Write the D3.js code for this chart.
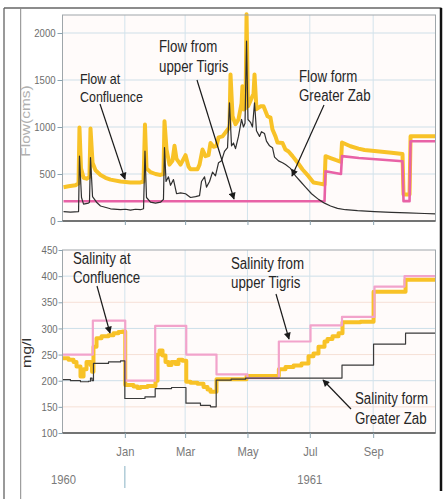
<!DOCTYPE html>
<html><head><meta charset="utf-8">
<script src="https://cdn.jsdelivr.net/npm/d3@7/dist/d3.min.js"></script>
<style>
html,body{margin:0;padding:0;background:#fff;}
svg{display:block;font-family:"Liberation Sans",Arial,sans-serif;}
</style></head><body>
<svg id="chart" width="448" height="499"></svg>
<script>
// ---------------- data ----------------
const recordStart = "1960-11-01";
const recordEnd = "1961-11-01";
const monthTickDates = ["1961-01-01","1961-03-01","1961-05-01","1961-07-01","1961-09-01"];
const monthTickLabels = ["Jan","Mar","May","Jul","Sep"];
const yearLabelDates = ["1960-11-02","1961-07-01"];
const yearLabels = ["1960","1961"];
const flowTicks = [0,500,1000,1500,2000];
const salinityTicks = [100,150,200,250,300,350,400,450];

// [days since 1 Nov 1960, flow (cms)]
const flowConfluence = [[1,360],[5.9,370],[12.7,380],[15.7,400],[16.6,995],[18.1,560],[20.6,460],[23.5,450],[26.4,470],[27.4,985],[29.4,620],[32.3,540],[37.2,490],[42.1,460],[47,440],[56.8,420],[66.5,410],[76.3,410],[79.3,420],[80.7,1027],[82.2,560],[86.1,520],[91,500],[95.9,490],[98.8,500],[99.8,1062],[101.8,760],[104.7,600],[107.6,640],[109.6,800],[111.6,660],[115.5,600],[120.4,700],[123.3,580],[125.3,550],[132.1,550],[134.1,600],[137,760],[139.9,690],[142.9,700],[144.8,830],[147.8,790],[150.7,800],[152.7,890],[156.6,900],[161.5,970],[163.4,1000],[164.4,1559],[166.4,1115],[169.3,1030],[172.2,1080],[175.2,1250],[176.1,1434],[177.6,1186],[179.1,1200],[180.1,2200],[181.5,1220],[184,1280],[185.9,1330],[186.9,1350],[187.9,1559],[189.8,1190],[193.7,1220],[196.7,1220],[200.6,1115],[203.5,1100],[205.5,973],[208.4,900],[210.4,835],[215.3,830],[218.2,760],[221.2,740],[225.1,690],[230,622],[234.9,548],[240.7,477],[245.6,410],[250.5,400],[256.4,388],[257.4,690],[262.3,670],[267.2,650],[272.5,630],[273.5,835],[281.8,795],[289.6,770],[295.5,755],[305.3,745],[322,725],[332.7,712],[333.7,282],[339.6,282],[340.6,902],[365,902]];
const flowUpperTigris = [[1,210],[256.4,210],[257.4,530],[272.5,500],[273.5,690],[290,670],[310,655],[332.7,636],[333.7,211],[339.6,211],[340.6,849],[365,849]];
const flowGreaterZab = [[1,100],[7.8,95],[15.7,100],[16.6,690],[18.6,250],[20.6,180],[25.4,190],[26.4,200],[27.4,675],[29.4,260],[33.3,200],[37.2,160],[47,130],[56.8,120],[61.7,125],[66.5,115],[71.4,125],[76.3,120],[79.3,130],[80.7,743],[82.2,250],[86.1,200],[91,190],[95.9,200],[98.8,230],[99.8,782],[101.3,420],[103.7,470],[105.7,380],[108.6,440],[111.6,290],[115.5,300],[120.4,290],[125.3,250],[130.2,260],[134.1,270],[136,420],[139,470],[140.9,360],[143.9,420],[146.8,520],[149.7,480],[152.7,620],[155.6,640],[158.5,740],[161.5,780],[163.4,1258],[165.4,800],[167.3,830],[169.3,770],[172.2,900],[175.2,1080],[177.1,1000],[178.6,1040],[180.1,1913],[181.5,1080],[184,1050],[185.9,1000],[187.9,1258],[189.8,960],[192.8,900],[194.7,950],[197.7,930],[199.6,850],[202.6,800],[205.5,780],[207.5,680],[211.4,640],[215.3,620],[218.2,600],[223.1,560],[228,480],[232.9,420],[237.8,360],[243.7,290],[250.5,230],[256.4,190],[262.3,160],[269.1,135],[276.9,120],[288.7,110],[305.3,100],[322,92],[337.6,86],[354.3,80],[365,76]];

// [days since 1 Nov 1960, salinity (mg/l)] - step series
const salinityConfluence = [[0,243],[5.9,240],[10.8,236],[13.7,227],[17.6,208],[20.6,222],[23.5,236],[27.4,230],[28.9,217],[30.3,265],[33.3,281],[38.2,285],[45,287],[49.9,291],[54.8,293],[58.7,294],[61.4,192],[69.5,189],[73.4,186],[76.3,188],[83.2,190],[91,200],[93,250],[94.9,258],[97.9,248],[100.8,236],[103.7,230],[106.7,236],[110.6,232],[113.5,240],[117.4,238],[121.1,198],[125.3,196],[132.1,194],[138,188],[141.9,183],[144.8,179],[150.7,203],[180.1,209],[211.7,222],[218.2,226],[226.1,229],[233.9,233],[240.7,247],[245.6,252],[250.5,265],[256.4,275],[259.3,280],[264.2,285],[270.1,291],[274,312],[291.6,313],[304.4,370],[335.7,393],[365,393]];
const salinityUpperTigris = [[0,250],[29.7,315],[61.4,200],[90.7,305],[121.1,250],[150.7,212],[181,205],[211.7,275],[242.7,306],[273.5,322],[305.3,380],[334.7,400],[365,400]];
const salinityGreaterZab = [[0,202],[7.8,200],[17.6,198],[25.4,199],[27.4,205],[28.9,200],[30.3,233],[45,236],[56.8,238],[61,166],[80.7,169],[90.7,185],[106.7,187],[120.8,157],[135,153],[144.8,150],[150.4,201],[165,203],[179.1,205],[273.5,230],[304.4,270],[335.7,291],[365,291]];

// ---------------- layout ----------------
const svg = d3.select("#chart");
const L = 62.5, R = 435.5;
const P1 = {top: 15, bottom: 221};
const P2 = {top: 250, bottom: 433};
const SQ = 0.83; // horizontal squeeze of the original artwork

const parse = d3.timeParse("%Y-%m-%d");
const t0 = parse(recordStart);
const dayToDate = d => new Date(t0.getTime() + d * 864e5);
const x = d3.scaleTime().domain([t0, parse(recordEnd)]).range([L, R]);
const yFlow = d3.scaleLinear().domain([0, 2000]).range([P1.bottom, 33]);
const ySal = d3.scaleLinear().domain([100, 450]).range([P2.bottom, P2.top]);

function squeeze(sel) {
  sel.each(function () {
    const w = this.getComputedTextLength();
    this.setAttribute("textLength", (w * SQ).toFixed(2));
    this.setAttribute("lengthAdjust", "spacingAndGlyphs");
  });
}

// frames
const frame = svg.append("g");
frame.append("line").attr("x1", 4).attr("x2", 4).attr("y1", 8).attr("y2", 499).attr("stroke", "#777").attr("stroke-width", 1.5);
frame.append("line").attr("x1", 4).attr("x2", 441.5).attr("y1", 8).attr("y2", 8).attr("stroke", "#666").attr("stroke-width", 1.5);
frame.append("line").attr("x1", 20.7).attr("x2", 20.7).attr("y1", 8).attr("y2", 499).attr("stroke", "#888").attr("stroke-width", 1);
frame.append("line").attr("x1", 441).attr("x2", 441).attr("y1", 8).attr("y2", 491).attr("stroke", "#111").attr("stroke-width", 2.5);

const monthDates = monthTickDates.map(parse);

function panel(P, yScale, ticks, gridColor) {
  const g = svg.append("g");
  g.append("rect").attr("x", L).attr("y", P.top).attr("width", R - L).attr("height", P.bottom - P.top).attr("fill", "#fffbfa");
  g.selectAll(".hg").data(ticks.filter(v => yScale(v) > P.top + 1 && yScale(v) < P.bottom - 1)).join("line")
    .attr("x1", L).attr("x2", R).attr("y1", d => yScale(d)).attr("y2", d => yScale(d))
    .attr("stroke", (d, i) => gridColor(d, i)).attr("stroke-width", 1);
  g.selectAll(".vg").data(monthDates).join("line")
    .attr("x1", d => x(d)).attr("x2", d => x(d)).attr("y1", P.top).attr("y2", P.bottom)
    .attr("stroke", "#d3e3ec").attr("stroke-width", 1);
  return g;
}
panel(P1, yFlow, flowTicks, () => "#cfdfe8");
panel(P2, ySal, salinityTicks, (d) => (d % 100 === 0 ? "#cddfe9" : "#f6e0d6"));

// series
const lineFlow = d3.line().x(d => x(dayToDate(d[0]))).y(d => yFlow(d[1]));
const lineSal = d3.line().curve(d3.curveStepAfter).x(d => x(dayToDate(d[0]))).y(d => ySal(d[1]));
const series = svg.append("g").attr("fill", "none").attr("stroke-linejoin", "round");
series.append("path").attr("d", lineFlow(flowConfluence)).attr("stroke", "#f8c227").attr("stroke-width", 4);
series.append("path").attr("d", lineFlow(flowUpperTigris)).attr("stroke", "#e862a6").attr("stroke-width", 2.6);
series.append("path").attr("d", lineFlow(flowGreaterZab)).attr("stroke", "#2f2f2f").attr("stroke-width", 1.2);
series.append("path").attr("d", lineSal(salinityConfluence)).attr("stroke", "#f8c227").attr("stroke-width", 4);
series.append("path").attr("d", lineSal(salinityUpperTigris)).attr("stroke", "#f2a3cb").attr("stroke-width", 2.2);
series.append("path").attr("d", lineSal(salinityGreaterZab)).attr("stroke", "#3a3a3a").attr("stroke-width", 1.2);

// boxes
[P1, P2].forEach(P => {
  svg.append("rect").attr("x", L).attr("y", P.top).attr("width", R - L).attr("height", P.bottom - P.top)
    .attr("fill", "none").attr("stroke", "#9fa6aa").attr("stroke-width", 1);
  svg.append("line").attr("x1", L).attr("x2", R).attr("y1", P.bottom).attr("y2", P.bottom).attr("stroke", "#555").attr("stroke-width", 1.3);
});

// axes
function styleAxis(g, size, color) {
  g.select(".domain").remove();
  g.selectAll(".tick line").attr("stroke", "#8aa3b0");
  g.selectAll(".tick text").attr("fill", color).style("font-size", size + "px").style("font-family", '"Liberation Sans",Arial,sans-serif');
}
const ax1 = svg.append("g").attr("transform", `translate(${L},0)`)
  .call(d3.axisLeft(yFlow).tickValues(flowTicks).tickSize(5).tickPadding(2).tickFormat(d3.format("d")));
styleAxis(ax1, 11.5, "#6d6d6d");
const ax2 = svg.append("g").attr("transform", `translate(${L},0)`)
  .call(d3.axisLeft(ySal).tickValues(salinityTicks).tickSize(4).tickPadding(1).tickFormat(d3.format("d")));
styleAxis(ax2, 11.5, "#6d6d6d");
const axT = svg.append("g").attr("transform", `translate(0,${P1.bottom})`)
  .call(d3.axisBottom(x).tickValues(monthDates).tickSize(4).tickFormat(""));
styleAxis(axT, 12, "#777");
const axB = svg.append("g").attr("transform", `translate(0,${P2.bottom})`)
  .call(d3.axisBottom(x).tickValues(monthDates).tickSize(5).tickPadding(8).tickFormat((d, i) => monthTickLabels[i]));
styleAxis(axB, 13.5, "#7a7a7a");

// year row
svg.append("line").attr("x1", x(monthDates[0])).attr("x2", x(monthDates[0])).attr("y1", 466).attr("y2", 488)
  .attr("stroke", "#9cbfce").attr("stroke-width", 1.2);
svg.selectAll(".yr").data(yearLabels).join("text").attr("class", "yr")
  .attr("x", (d, i) => x(parse(yearLabelDates[i]))).attr("y", 484).attr("text-anchor", "middle")
  .attr("fill", "#7a7a7a").style("font-size", "13.5px").text(d => d);

// axis titles (rotated)
svg.append("text").attr("transform", `translate(30,121) scale(${SQ},1) rotate(-90)`).attr("text-anchor", "middle")
  .attr("fill", "#b0b0b0").style("font-size", "15.5px").text("Flow(cms)");
svg.append("text").attr("transform", `translate(31,353) scale(${SQ},1) rotate(-90)`).attr("text-anchor", "middle")
  .attr("fill", "#333").style("font-size", "16px").text("mg/l");

// annotations
const annotations = [
  {lines: ["Flow at", "Confluence"], x: 80, y: [84, 101.5], size: 15, arrow: [100, 104, 125, 179]},
  {lines: ["Flow from", "upper Tigris"], x: 159, y: [52, 72], size: 16, arrow: [197, 80, 234, 199]},
  {lines: ["Flow form", "Greater Zab"], x: 299, y: [82, 100.5], size: 16, arrow: [324, 105, 292, 176]},
  {lines: ["Salinity at", "Confluence"], x: 73, y: [264, 283], size: 16, arrow: [97, 286, 110, 333]},
  {lines: ["Salinity from", "upper Tigris"], x: 231, y: [269, 288], size: 16, arrow: [276, 294, 289, 339]},
  {lines: ["Salinity form", "Greater Zab"], x: 355, y: [404, 424], size: 16, arrow: [351, 409, 323, 380]}
];
svg.append("defs").append("marker").attr("id", "ah").attr("viewBox", "0 0 10 10").attr("refX", 9).attr("refY", 5)
  .attr("markerWidth", 9).attr("markerHeight", 7).attr("markerUnits", "userSpaceOnUse").attr("orient", "auto")
  .append("path").attr("d", "M0,0L10,5L0,10Z").attr("fill", "#1a1a1a");
const ann = svg.append("g");
annotations.forEach(a => {
  a.lines.forEach((t, i) => {
    ann.append("text").attr("x", a.x).attr("y", a.y[i]).attr("fill", "#262626").style("font-size", a.size + "px").text(t);
  });
  ann.append("line").attr("x1", a.arrow[0]).attr("y1", a.arrow[1]).attr("x2", a.arrow[2]).attr("y2", a.arrow[3])
    .attr("stroke", "#1a1a1a").attr("stroke-width", 1.2).attr("marker-end", "url(#ah)");
});

// squeeze all horizontal text to match the narrow lettering
squeeze(svg.selectAll("text").filter(function () { return !this.getAttribute("transform"); }));
</script>
</body></html>
